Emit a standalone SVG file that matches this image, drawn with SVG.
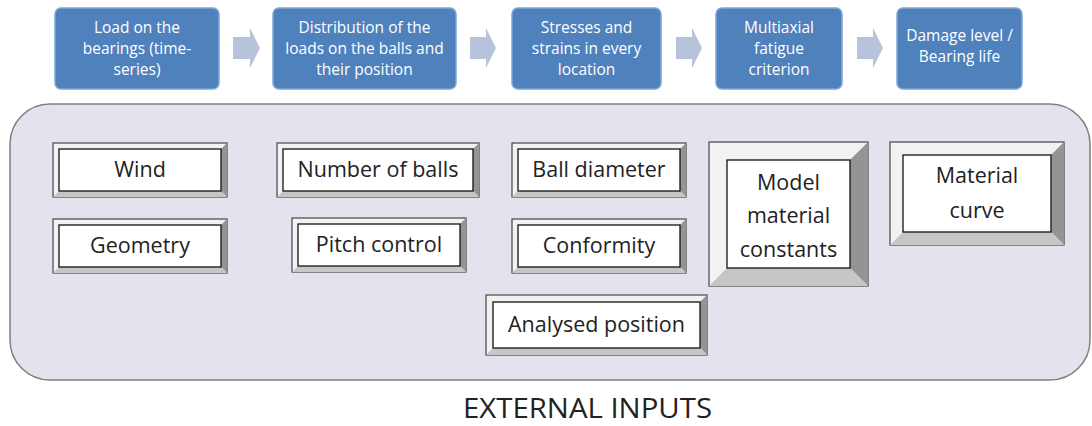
<svg xmlns="http://www.w3.org/2000/svg" width="1092" height="426" viewBox="0 0 1092 426">
<style>
.step{fill:#4f81bd;stroke:#7fa6d6;stroke-width:1.5}
.st{font-family:"Open Sans","Liberation Sans",sans-serif;font-size:15.5px;fill:#ffffff;text-anchor:middle}
.arr{fill:#b7c3da}
.panel{fill:#e5e2ee;stroke:#7f7f7f;stroke-width:1.5}
.bo{fill:#f2f2f2;stroke:#444;stroke-width:1.2}
.br{fill:#949494}
.bb{fill:#c6c6c6}
.bi{fill:#ffffff;stroke:#111;stroke-width:1.3}
.bt{font-family:"Open Sans","Liberation Sans",sans-serif;font-size:21.5px;fill:#222;text-anchor:middle}
.title{font-family:"Open Sans","Liberation Sans",sans-serif;font-size:28px;fill:#222;text-anchor:middle}
</style>
<rect width="1092" height="426" fill="#ffffff"/>
<rect id="panel" class="panel" x="10" y="104" width="1080" height="276" rx="40" ry="40"/>
<g id="connectors">
<polygon class="arr" points="233,37 250,37 250,28 260,48 250,68 250,59 233,59"/>
<polygon class="arr" points="470,37 486,37 486,28 496,48 486,68 486,59 470,59"/>
<polygon class="arr" points="676,37 692,37 692,28 702,48 692,68 692,59 676,59"/>
<polygon class="arr" points="857,37 873,37 873,28 883,48 873,68 873,59 857,59"/>
</g>
<g id="s1"><rect class="step" x="55" y="8" width="164" height="81" rx="6"/>
<text class="st" x="137" y="33">Load on the</text><text class="st" x="137" y="54">bearings (time-</text><text class="st" x="137" y="75">series)</text></g>
<g id="s2"><rect class="step" x="273" y="8" width="183" height="81" rx="6"/>
<text class="st" x="364.5" y="33">Distribution of the</text><text class="st" x="364.5" y="54">loads on the balls and</text><text class="st" x="364.5" y="75">their position</text></g>
<g id="s3"><rect class="step" x="512" y="8" width="149" height="81" rx="6"/>
<text class="st" x="586.5" y="33">Stresses and</text><text class="st" x="586.5" y="54">strains in every</text><text class="st" x="586.5" y="75">location</text></g>
<g id="s4"><rect class="step" x="716" y="8" width="126" height="81" rx="6"/>
<text class="st" x="779" y="33">Multiaxial</text><text class="st" x="779" y="54">fatigue</text><text class="st" x="779" y="75">criterion</text></g>
<g id="s5"><rect class="step" x="897" y="8" width="125" height="81" rx="6"/>
<text class="st" x="959.5" y="41">Damage level /</text><text class="st" x="959.5" y="62">Bearing life</text></g>

<g id="wind"><rect class="bo" x="53" y="143" width="174" height="54"/>
<polygon class="br" points="227,143 227,197 221,191 221,149"/><polygon class="bb" points="53,197 59,191 221,191 227,197"/>
<rect class="bi" x="59" y="149" width="162" height="42"/><text class="bt" x="140" y="177">Wind</text></g>

<g id="geometry"><rect class="bo" x="53" y="219" width="174" height="54"/>
<polygon class="br" points="227,219 227,273 221,267 221,225"/><polygon class="bb" points="53,273 59,267 221,267 227,273"/>
<rect class="bi" x="59" y="225" width="162" height="42"/><text class="bt" x="140" y="253">Geometry</text></g>

<g id="nballs"><rect class="bo" x="277" y="143" width="202" height="54"/>
<polygon class="br" points="479,143 479,197 473,191 473,149"/><polygon class="bb" points="277,197 283,191 473,191 479,197"/>
<rect class="bi" x="283" y="149" width="190" height="42"/><text class="bt" x="378" y="177">Number of balls</text></g>

<g id="pitch"><rect class="bo" x="292" y="218" width="174" height="54"/>
<polygon class="br" points="466,218 466,272 460,266 460,224"/><polygon class="bb" points="292,272 298,266 460,266 466,272"/>
<rect class="bi" x="298" y="224" width="162" height="42"/><text class="bt" x="379" y="252">Pitch control</text></g>

<g id="balldia"><rect class="bo" x="512" y="143" width="174" height="54"/>
<polygon class="br" points="686,143 686,197 680,191 680,149"/><polygon class="bb" points="512,197 518,191 680,191 686,197"/>
<rect class="bi" x="518" y="149" width="162" height="42"/><text class="bt" x="599" y="177">Ball diameter</text></g>

<g id="conformity"><rect class="bo" x="512" y="219" width="174" height="54"/>
<polygon class="br" points="686,219 686,273 680,267 680,225"/><polygon class="bb" points="512,273 518,267 680,267 686,273"/>
<rect class="bi" x="518" y="225" width="162" height="42"/><text class="bt" x="599" y="253">Conformity</text></g>

<g id="modelconst"><rect class="bo" x="709" y="142" width="159" height="144"/>
<polygon class="br" points="868,142 868,286 850,268 850,160"/><polygon class="bb" points="709,286 727,268 850,268 868,286"/>
<rect class="bi" x="727" y="160" width="123" height="108"/>
<text class="bt" x="788.5" y="190">Model</text><text class="bt" x="788.5" y="223">material</text><text class="bt" x="788.5" y="257">constants</text></g>

<g id="matcurve"><rect class="bo" x="890" y="142" width="174" height="103"/>
<polygon class="br" points="1064,142 1064,245 1051,232 1051,155"/><polygon class="bb" points="890,245 903,232 1051,232 1064,245"/>
<rect class="bi" x="903" y="155" width="148" height="77"/>
<text class="bt" x="977" y="183">Material</text><text class="bt" x="977" y="218">curve</text></g>

<g id="analysed"><rect class="bo" x="486" y="295" width="221" height="60"/>
<polygon class="br" points="707,295 707,355 700,348 700,302"/><polygon class="bb" points="486,355 493,348 700,348 707,355"/>
<rect class="bi" x="493" y="302" width="207" height="46"/><text class="bt" x="596.5" y="332">Analysed position</text></g>

<text id="title" class="title" x="587.5" y="418" textLength="249" lengthAdjust="spacingAndGlyphs">EXTERNAL INPUTS</text>
</svg>
